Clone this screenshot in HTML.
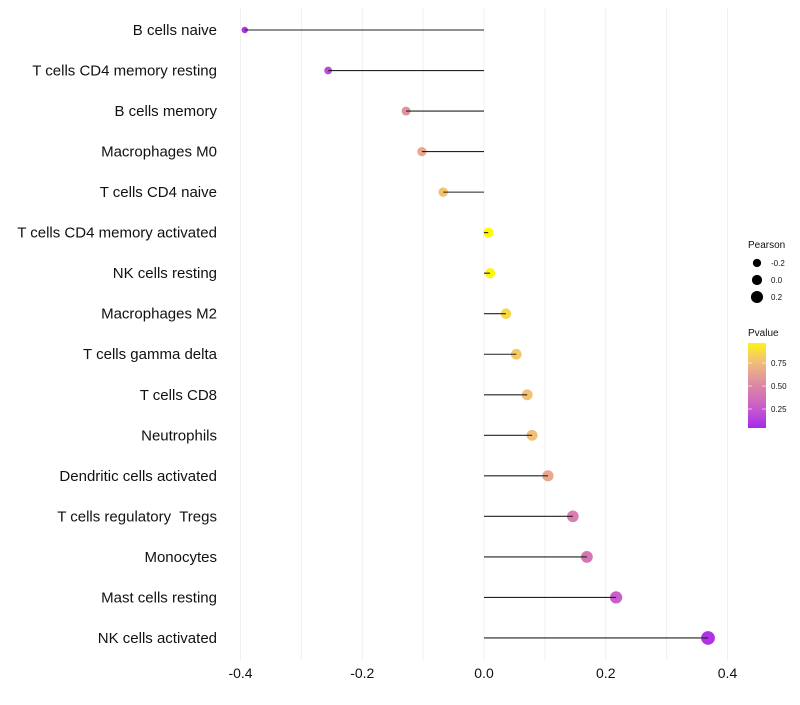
<!DOCTYPE html>
<html><head><meta charset="utf-8"><style>
body{margin:0;background:#fff;font-family:"Liberation Sans",sans-serif;}
text{white-space:pre;}
</style></head><body>
<svg id="chart" width="800" height="700" xmlns="http://www.w3.org/2000/svg"></svg>
<script>
const categories=["B cells naive","T cells CD4 memory resting","B cells memory","Macrophages M0","T cells CD4 naive","T cells CD4 memory activated","NK cells resting","Macrophages M2","T cells gamma delta","T cells CD8","Neutrophils","Dendritic cells activated","T cells regulatory  Tregs","Monocytes","Mast cells resting","NK cells activated"];
const pearson=[-0.393,-0.256,-0.128,-0.102,-0.067,0.007,0.010,0.036,0.053,0.071,0.079,0.105,0.146,0.169,0.217,0.368];
const pvalues=[0.08,0.18,0.55,0.65,0.78,0.98,0.97,0.86,0.8,0.77,0.76,0.65,0.45,0.4,0.27,0.08];
const xTicks=[-0.4,-0.2,0.0,0.2,0.4];
const xMinor=[-0.3,-0.1,0.1,0.3];
const sizeLegend=[-0.2,0.0,0.2];
const colorTicks=[0.25,0.5,0.75];

const NS="http://www.w3.org/2000/svg";
const svg=document.getElementById('chart');
function el(t,a,p){const e=document.createElementNS(NS,t);for(const k in a)e.setAttribute(k,a[k]);(p||svg).appendChild(e);return e;}
const x=v=>484+v*608.75;
const y=i=>30+i*40.53;
const r=v=>Math.max(2,5.1+4.8*v);
const stops=[[0,[160,32,240]],[0.25,[200,90,205]],[0.5,[221,135,165]],[0.75,[240,188,126]],[1,[255,255,0]]];
function col(p){for(let i=0;i<stops.length-1;i++){const a=stops[i],b=stops[i+1];if(p<=b[0]){const t=(p-a[0])/(b[0]-a[0]);const c=a[1].map((v,j)=>Math.round(v+(b[1][j]-v)*t));return `rgb(${c})`;}}return 'rgb(255,255,0)';}

[...xTicks,...xMinor].forEach(v=>{
  const g=el('line',{x1:x(v),x2:x(v),y1:8,y2:660,stroke:'#f0f0f0','stroke-width':1});
  
  
});
xTicks.forEach(v=>{
  const t=el('text',{x:x(v),y:678,'text-anchor':'middle','font-size':14,fill:'#111'});
  t.textContent=v.toFixed(1);
  
  
});
categories.forEach((c,i)=>{
  const t=el('text',{x:217,y:y(i)+5,'text-anchor':'end','font-size':15,fill:'#111'});
  t.textContent=c;
  
  
  const d=el('circle',{cx:x(pearson[i]),cy:y(i),r:r(pearson[i]),fill:col(pvalues[i])});
  
  
  const l=el('line',{x1:x(0),x2:x(pearson[i]),y1:y(i),y2:y(i),stroke:'#222','stroke-width':1.1});
  
  
});
const lt=el('text',{x:748,y:248,'font-size':10,fill:'#111'});lt.textContent='Pearson';


sizeLegend.forEach((v,i)=>{
  const c=el('circle',{cx:757,cy:263+i*17,r:r(v),fill:'#000'});
  
  
  const t=el('text',{x:771,y:266+i*17,'font-size':8,fill:'#111'});t.textContent=v.toFixed(1);
  
  
});
const pt=el('text',{x:748,y:336,'font-size':10,fill:'#111'});pt.textContent='Pvalue';


const defs=el('defs',{});
const lg=el('linearGradient',{id:'pg',x1:0,y1:1,x2:0,y2:0},defs);
for(let k=0;k<=10;k++){const p=0.04+k*0.092;el('stop',{offset:k/10,'stop-color':col(p)},lg);}
const bar=el('rect',{x:748,y:343,width:18,height:85,fill:'url(#pg)'});


const cy=p=>432-p*92;
colorTicks.forEach(p=>{
  el('line',{x1:748,x2:752,y1:cy(p),y2:cy(p),stroke:'#fff','stroke-width':0.6});
  el('line',{x1:762,x2:766,y1:cy(p),y2:cy(p),stroke:'#fff','stroke-width':0.6});
  const t=el('text',{x:771,y:cy(p)+3,'font-size':8,fill:'#111'});t.textContent=p.toFixed(2);
  
  
});
</script>
</body></html>
